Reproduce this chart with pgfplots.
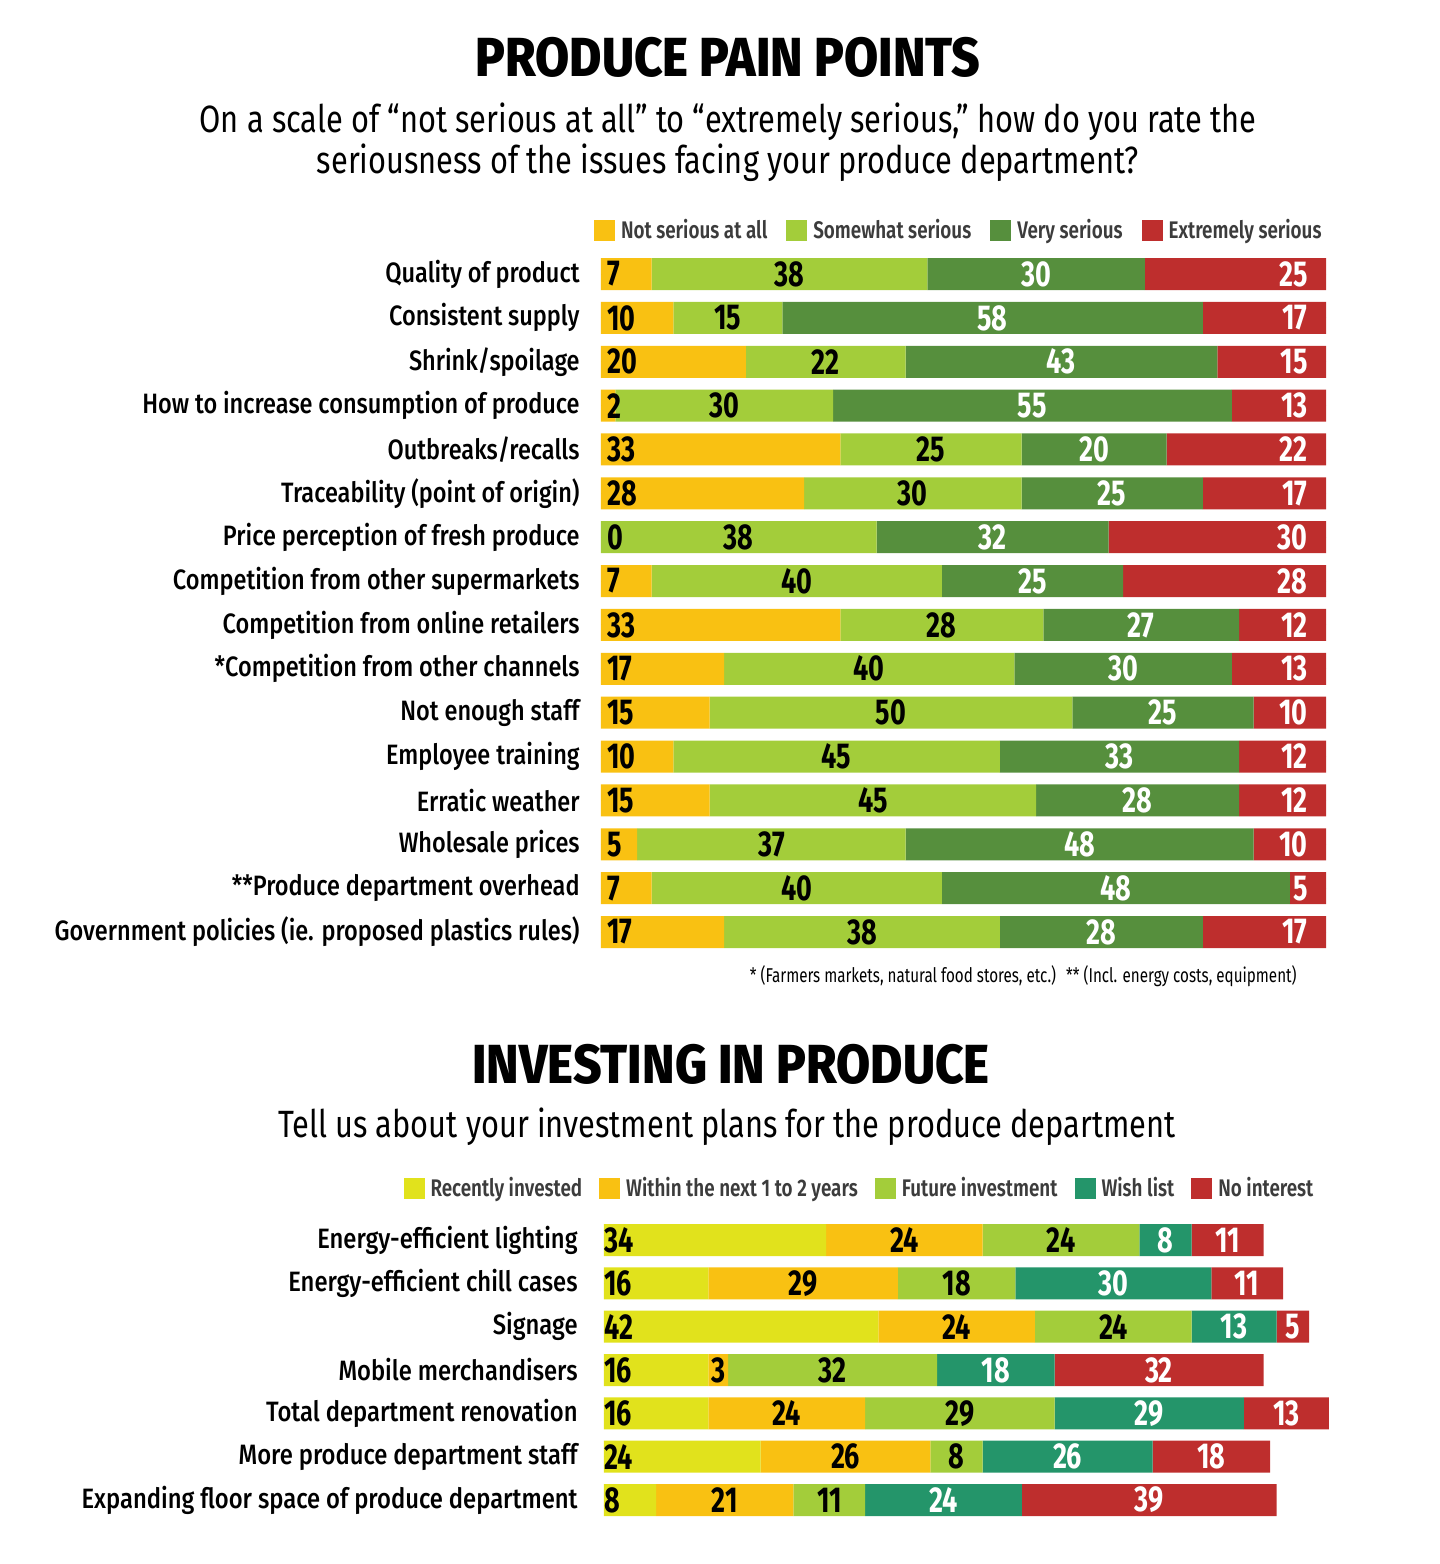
\documentclass[border=0pt]{standalone}
\usepackage{fontspec}
\usepackage{pgfplots}
\usepackage{pgfplotstable}
\pgfplotsset{compat=1.18}
\setmainfont{Fira Sans}
\newfontfamily\titlefont{Fira Sans ExtraBold}[FakeStretch=0.9]
\newfontfamily\subfont{Fira Sans}[FakeStretch=0.81]
\newfontfamily\lblfont{Fira Sans Medium}[FakeStretch=0.84]
\newfontfamily\blblfont{Fira Sans Medium}[FakeStretch=0.85]
\newfontfamily\legfont{Fira Sans SemiBold}[FakeStretch=0.785]
\newfontfamily\numfont{Fira Sans Bold}[FakeStretch=0.75]
\newfontfamily\notefont{Fira Sans}[FakeStretch=0.76]

\definecolor{cNS}{HTML}{F9C112}
\definecolor{cSS}{HTML}{A3CD3A}
\definecolor{cVS}{HTML}{568F3D}
\definecolor{cES}{HTML}{BE2E2D}
\definecolor{cRI}{HTML}{E1E21C}
\definecolor{cWL}{HTML}{24956A}
\definecolor{cLeg}{HTML}{3C3C3C}

\pgfplotstableread{
row a b c d
1 7 38 30 25
2 10 15 58 17
3 20 22 43 15
4 2 30 55 13
5 33 25 20 22
6 28 30 25 17
7 0 38 32 30
8 7 40 25 28
9 33 28 27 12
10 17 40 30 13
11 15 50 25 10
12 10 45 33 12
13 15 45 28 12
14 5 37 48 10
15 7 40 48 5
16 17 38 28 17
}\topdata

\pgfplotstableread{
row a b c d e
1 34 24 24 8 11
2 16 29 18 30 11
3 42 24 24 13 5
4 16 3 32 18 32
5 16 24 29 29 13
6 24 26 8 26 18
7 8 21 11 24 39
}\botdata

\pgfplotsset{
  lbl/.style 2 args={scatter, only marks, mark=*, mark size=0pt,
    mark options={draw=none,fill=none}, point meta=explicit symbolic,
    scatter/@pre marker code/.code={\node[font=\numfont\fontsize{18}{18}\selectfont, inner sep=0pt, text=#1, #2] {\pgfplotspointmeta};},
    scatter/@post marker code/.code={}},
  sqlegend/.style={legend image code/.code={\fill[##1] (0pt,-5.25pt) rectangle (10.5pt,5.25pt);}},
}

\begin{document}
\begin{tikzpicture}
\path[use as bounding box] (0pt,0pt) rectangle (720pt,-782pt);

\node[anchor=base, inner sep=0pt, font=\titlefont\fontsize{27.5}{27.5}\selectfont] at (364pt,-38pt) {PRODUCE PAIN POINTS};
\node[anchor=base, inner sep=0pt, font=\subfont\fontsize{19}{19}\selectfont] at (364pt,-66pt) {On a scale of “not serious at all” to “extremely serious,” how do you rate the};
\node[anchor=base, inner sep=0pt, font=\subfont\fontsize{19}{19}\selectfont] at (364pt,-86.5pt) {seriousness of the issues facing your produce department?};

\begin{axis}[
  at={(300.5pt,-126.035pt)}, anchor=north west, scale only axis,
  width=362.5pt, height=350.93pt,
  xbar stacked, bar width=16pt,
  xmin=0, xmax=100, ymin=0.5, ymax=16.5, y dir=reverse,
  axis line style={draw=none}, tick style={draw=none}, xtick=\empty,
  ytick={1,...,16},
  yticklabels={{Quality of product},{Consistent supply},{Shrink/spoilage},{How to increase consumption of produce},{Outbreaks/recalls},{Traceability (point of origin)},{Price perception of fresh produce},{Competition from other supermarkets},{Competition from online retailers},{*Competition from other channels},{Not enough staff},{Employee training},{Erratic weather},{Wholesale prices},{**Produce department overhead},{Government policies (ie. proposed plastics rules)}},
  yticklabel style={font=\lblfont\fontsize{14}{14}\selectfont, anchor=east, inner sep=0pt, xshift=-10.5pt},
  sqlegend,
  legend columns=4,
  legend style={at={(1,1)}, anchor=south east, xshift=-2pt, yshift=5pt, draw=none, fill=none, inner sep=0pt,
    font=\legfont\fontsize{12}{12}\selectfont, text=cLeg, nodes={inner sep=0pt},
    /tikz/every odd column/.append style={column sep=3pt},
    /tikz/every even column/.append style={column sep=9.5pt}},
  legend cell align=left,
  clip=false,
]
\addplot[fill=cNS, draw=none] table[x=a,y=row]{\topdata};
\addplot[fill=cSS, draw=none] table[x=b,y=row]{\topdata};
\addplot[fill=cVS, draw=none] table[x=c,y=row]{\topdata};
\addplot[fill=cES, draw=none] table[x=d,y=row]{\topdata};
\legend{Not serious at all,Somewhat serious,Very serious,Extremely serious}
\end{axis}

\begin{axis}[
  at={(300.5pt,-126.035pt)}, anchor=north west, scale only axis,
  width=362.5pt, height=350.93pt,
  xmin=0, xmax=100, ymin=0.5, ymax=16.5, y dir=reverse,
  hide axis, clip=false,
]
\addplot[lbl={black}{anchor=west, xshift=3pt}] table[x expr=0, y=row, meta=a]{\topdata};
\addplot[lbl={black}{anchor=center}] table[x expr=\thisrow{a}+\thisrow{b}/2, y=row, meta=b]{\topdata};
\addplot[lbl={white}{anchor=center}] table[x expr=\thisrow{a}+\thisrow{b}+\thisrow{c}/2, y=row, meta=c]{\topdata};
\addplot[lbl={white}{anchor=east, xshift=-9pt}] table[x expr=100, y=row, meta=d]{\topdata};
\end{axis}

\node[anchor=base east, inner sep=0pt, font=\notefont\fontsize{10}{10}\selectfont] at (648.5pt,-491pt) {* (Farmers markets, natural food stores, etc.)\enspace ** (Incl. energy costs, equipment)};

\node[anchor=base, inner sep=0pt, font=\titlefont\fontsize{27.5}{27.5}\selectfont] at (365.5pt,-541.5pt) {INVESTING IN PRODUCE};
\node[anchor=base, inner sep=0pt, font=\subfont\fontsize{19}{19}\selectfont] at (363.5pt,-568.5pt) {Tell us about your investment plans for the produce department};

\begin{axis}[
  at={(302pt,-609.165pt)}, anchor=north west, scale only axis,
  width=362.4pt, height=151.67pt,
  xbar stacked, bar width=16pt,
  xmin=0, xmax=111, ymin=0.5, ymax=7.5, y dir=reverse,
  axis line style={draw=none}, tick style={draw=none}, xtick=\empty,
  ytick={1,...,7},
  yticklabels={{Energy-efficient lighting},{Energy-efficient chill cases},{Signage},{Mobile merchandisers},{Total department renovation},{More produce department staff},{Expanding floor space of produce department}},
  yticklabel style={font=\blblfont\fontsize{14}{14}\selectfont, anchor=east, inner sep=0pt, xshift=-13pt},
  sqlegend,
  legend columns=5,
  legend style={at={(1,1)}, anchor=south east, xshift=-7.5pt, yshift=9pt, draw=none, fill=none, inner sep=0pt,
    font=\legfont\fontsize{12}{12}\selectfont, text=cLeg, nodes={inner sep=0pt},
    /tikz/every odd column/.append style={column sep=3pt},
    /tikz/every even column/.append style={column sep=8.5pt}},
  legend cell align=left,
  clip=false,
]
\addplot[fill=cRI, draw=none] table[x=a,y=row]{\botdata};
\addplot[fill=cNS, draw=none] table[x=b,y=row]{\botdata};
\addplot[fill=cSS, draw=none] table[x=c,y=row]{\botdata};
\addplot[fill=cWL, draw=none] table[x=d,y=row]{\botdata};
\addplot[fill=cES, draw=none] table[x=e,y=row]{\botdata};
\legend{Recently invested,Within the next 1 to 2 years,Future investment,Wish list,No interest}
\end{axis}

\begin{axis}[
  at={(302pt,-609.165pt)}, anchor=north west, scale only axis,
  width=362.4pt, height=151.67pt,
  xmin=0, xmax=111, ymin=0.5, ymax=7.5, y dir=reverse,
  hide axis, clip=false,
]
\addplot[lbl={black}{anchor=west}] table[x expr=0, y=row, meta=a]{\botdata};
\addplot[lbl={black}{anchor=center}] table[x expr=\thisrow{a}+\thisrow{b}/2, y=row, meta=b]{\botdata};
\addplot[lbl={black}{anchor=center}] table[x expr=\thisrow{a}+\thisrow{b}+\thisrow{c}/2, y=row, meta=c]{\botdata};
\addplot[lbl={white}{anchor=center}] table[x expr=\thisrow{a}+\thisrow{b}+\thisrow{c}+\thisrow{d}/2, y=row, meta=d]{\botdata};
\addplot[lbl={white}{anchor=center}] table[x expr=\thisrow{a}+\thisrow{b}+\thisrow{c}+\thisrow{d}+\thisrow{e}/2, y=row, meta=e]{\botdata};
\end{axis}
\end{tikzpicture}
\end{document}
